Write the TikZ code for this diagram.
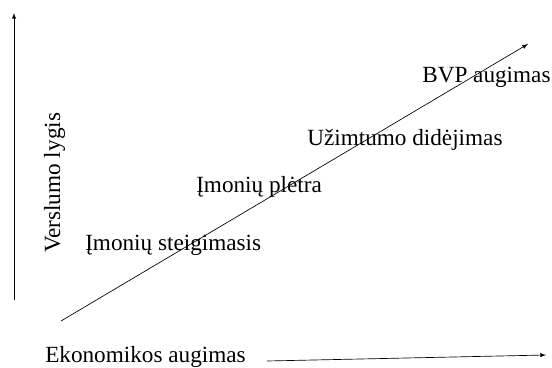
\documentclass[tikz,border=0pt]{standalone}
\usepackage{fontspec}
\setmainfont{Liberation Serif}
\usepackage{tikz}
\usetikzlibrary{arrows}
\usetikzlibrary{positioning}

\tikzset{lbl/.style={font=\fontsize{17.4}{20}\selectfont, inner sep=0pt}}

\begin{document}
\begin{tikzpicture}[x=0.75pt, y=-0.75pt]
      \useasboundingbox (0, 0) rectangle (552, 367);

      \coordinate (v0) at (14, 300);
      \coordinate (v1) at (14, 13);
      \coordinate (d0) at (61, 321);
      \coordinate (d1) at (528, 44);
      \coordinate (h0) at (267, 361);
      \coordinate (h1) at (546, 355);

      \draw [-latex, line width=0.5pt] (v0) -- (v1);
      \draw [-latex, line width=0.5pt] (d0) -- (d1);
      \draw [-latex, line width=0.5pt] (h0) -- (h1);

      \node (bvp) at (422, 83) [lbl, anchor=base west] {BVP augimas};
      \node (uzim) at (307, 145) [lbl, anchor=base west] {Užimtumo didėjimas};
      \node (pletra) at (196, 192) [lbl, anchor=base west] {Įmonių plėtra};
      \node (steig) at (85, 250) [lbl, anchor=base west] {Įmonių steigimasis};
      \node (ekon) at (45, 362) [lbl, anchor=base west] {Ekonomikos augimas};
      \node (versl) at (60, 253) [lbl, anchor=base west, rotate=90] {Verslumo lygis};
    \end{tikzpicture}
\end{document}
